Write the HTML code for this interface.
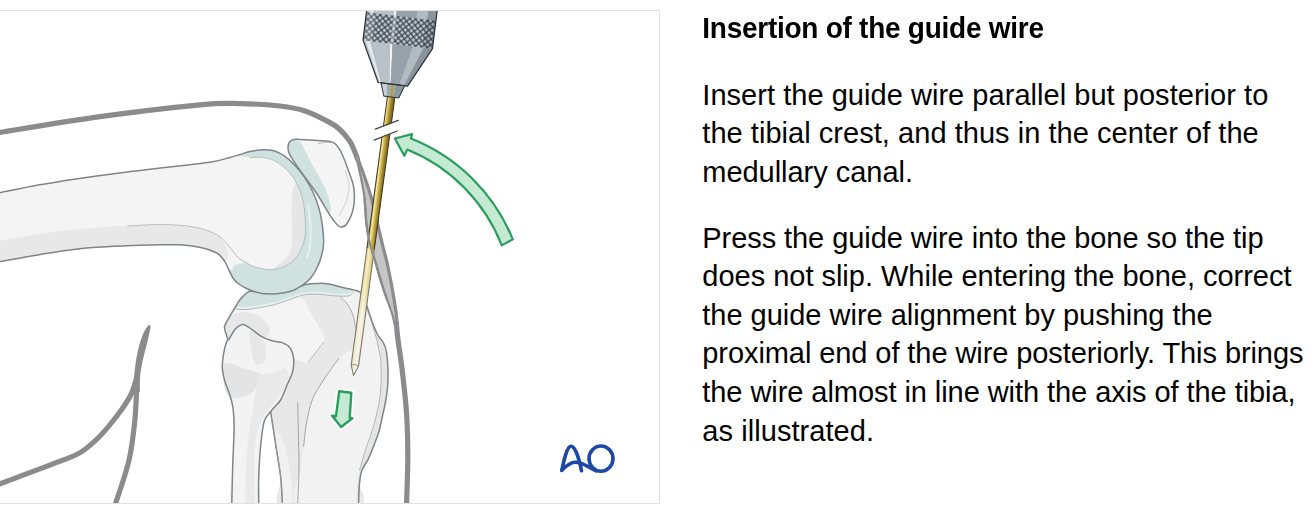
<!DOCTYPE html>
<html><head><meta charset="utf-8"><style>
html,body{margin:0;padding:0;background:#fff;width:1316px;height:509px;overflow:hidden}
#fig{position:absolute;left:0;top:0;width:660px;height:509px}
.t{position:absolute;left:703px;white-space:nowrap;font-family:"Liberation Sans",sans-serif;color:#000}
h2.t{margin:0;font-weight:bold;font-size:28px;line-height:32px;transform:scaleY(1.03);transform-origin:0 25.7px}
p.t{margin:0;font-size:29px;line-height:32px}
</style></head><body>
<svg id="fig" width="660" height="509" viewBox="0 0 660 509">
<defs><clipPath id="fr"><rect x="0" y="10.5" width="659" height="493"/></clipPath></defs>
<rect x="-2" y="10.5" width="661.5" height="493" fill="#fff" stroke="#e1e1e1" stroke-width="1"/>
<g clip-path="url(#fr)">
<path d="M233.0 311.0 C234.3 308.8 235.3 306.9 236.5 305.0 C237.7 303.1 238.2 301.7 239.9 299.7 C241.6 297.7 244.8 294.2 246.8 292.8 C248.8 291.4 247.8 291.3 251.7 291.3 C255.6 291.3 263.8 293.2 270.0 293.0 C276.2 292.8 283.0 291.4 289.0 290.0 C295.0 288.6 301.1 285.5 306.1 284.4 C311.1 283.3 315.1 283.5 318.9 283.4 C322.7 283.3 325.5 283.4 328.8 283.9 C332.1 284.4 335.4 285.6 338.7 286.4 C342.0 287.2 345.1 287.9 348.6 288.8 C352.1 289.7 357.3 290.3 359.9 292.0 C362.5 293.7 362.9 296.6 364.0 298.9 C365.1 301.2 365.9 303.3 366.8 305.8 C367.7 308.3 368.4 310.8 369.5 314.0 C370.6 317.2 371.8 321.3 373.3 325.0 C374.8 328.7 376.7 333.0 378.4 336.0 C380.1 339.0 382.1 340.3 383.5 343.0 C384.9 345.7 385.8 347.5 386.5 352.0 C387.2 356.5 387.8 364.0 388.0 370.0 C388.2 376.0 387.9 382.7 387.5 388.0 C387.1 393.3 386.3 397.3 385.5 402.0 C384.7 406.7 383.6 411.0 382.5 416.0 C381.4 421.0 380.2 427.2 378.8 432.0 C377.4 436.8 375.7 440.6 374.0 445.0 C372.3 449.4 370.5 454.4 368.5 458.6 C366.5 462.8 363.5 465.9 362.0 470.0 C360.5 474.1 360.1 477.2 359.5 483.2 C358.9 489.2 371.3 502.2 358.5 506.0 C345.7 509.8 295.4 510.6 282.5 506.0 C269.6 501.4 281.8 487.8 280.8 478.2 C279.8 468.6 277.9 458.9 276.3 448.7 C274.7 438.5 272.8 424.9 271.4 416.8 C270.0 408.7 270.7 407.8 268.0 400.0 C265.3 392.2 259.7 378.3 255.0 370.0 C250.3 361.7 244.4 355.1 240.0 350.0 C235.6 344.9 231.0 342.1 228.8 339.7 C226.6 337.3 227.3 337.6 226.6 335.4 C225.9 333.2 224.1 329.6 224.5 326.7 C224.9 323.8 227.4 320.6 228.8 318.0 C230.2 315.4 231.7 313.2 233.0 311.0Z" fill="#e8e8e8"/>
<path d="M234.0 309.0 C236.7 307.9 240.5 309.8 244.8 309.6 C249.1 309.4 254.7 308.4 259.6 307.6 C264.6 306.8 269.6 305.9 274.5 304.6 C279.4 303.3 284.9 300.9 289.3 299.7 C293.7 298.5 297.2 294.9 301.0 297.5 C304.8 300.1 308.4 309.1 312.0 315.0 C315.6 320.9 320.5 328.5 322.5 333.0 C324.5 337.5 325.1 338.8 324.0 342.0 C322.9 345.2 318.7 348.5 316.0 352.0 C313.3 355.5 311.5 361.8 308.0 362.8 C304.5 363.8 297.9 360.4 295.0 358.0 C292.1 355.6 292.4 350.8 290.4 348.3 C288.4 345.8 285.9 344.1 282.8 342.9 C279.7 341.6 275.6 341.9 272.0 340.8 C268.4 339.7 264.4 338.2 261.2 336.4 C258.0 334.6 255.1 331.8 252.6 330.0 C250.1 328.2 247.9 326.5 246.1 325.6 C244.3 324.7 243.6 324.1 241.8 324.6 C240.0 325.2 237.5 326.4 235.3 328.9 C233.1 331.4 230.2 338.6 228.8 339.7 C227.4 340.8 227.3 337.6 226.6 335.4 C225.9 333.2 224.1 329.9 224.5 326.7 C224.9 323.4 227.2 318.8 228.8 315.9 C230.4 312.9 231.3 310.1 234.0 309.0Z" fill="#f4f4f4"/>
<path d="M229.0 317.0 C231.2 314.1 234.5 313.2 238.0 312.5 C241.5 311.8 246.0 312.1 250.0 313.0 C254.0 313.9 258.7 315.2 262.0 318.0 C265.3 320.8 270.0 326.7 270.0 330.0 C270.0 333.3 266.2 338.0 262.0 338.0 C257.8 338.0 250.0 329.7 245.0 330.0 C240.0 330.3 235.3 340.0 232.0 340.0 C228.7 340.0 225.5 333.8 225.0 330.0 C224.5 326.2 226.8 319.9 229.0 317.0Z" fill="#e7e7e7"/>
<path d="M340.0 296.5 C340.8 294.6 348.7 293.6 352.0 293.0 C355.3 292.4 358.0 291.9 360.0 293.0 C362.0 294.1 363.0 297.3 364.0 299.5 C365.0 301.7 364.8 302.6 366.0 306.0 C367.2 309.4 369.4 315.2 371.0 320.0 C372.6 324.8 374.2 330.0 375.5 335.0 C376.8 340.0 378.1 345.2 379.0 350.0 C379.9 354.8 380.8 356.7 381.0 364.0 C381.2 371.3 381.4 383.8 380.3 393.7 C379.2 403.6 376.9 413.8 374.4 423.2 C371.9 432.6 368.0 442.0 365.5 449.8 C363.0 457.6 361.0 463.3 359.6 470.0 C358.2 476.7 357.5 484.0 357.0 490.0 C356.5 496.0 366.3 503.3 356.5 506.0 C346.7 508.7 307.4 512.0 298.0 506.0 C288.6 500.0 299.1 479.9 300.0 470.0 C300.9 460.1 302.5 454.6 303.6 446.8 C304.7 439.0 305.0 431.1 306.5 423.2 C308.0 415.3 309.4 407.0 312.4 399.6 C315.3 392.2 319.8 385.9 324.2 379.0 C328.6 372.1 334.7 363.0 339.0 358.3 C343.3 353.6 347.0 352.9 350.0 351.0 C353.0 349.1 355.5 349.3 357.0 347.0 C358.5 344.7 359.2 339.8 359.0 337.0 C358.8 334.2 357.0 333.6 356.0 330.0 C355.0 326.4 354.4 319.7 353.0 315.4 C351.6 311.1 349.7 307.5 347.5 304.4 C345.3 301.2 339.2 298.4 340.0 296.5Z" fill="#f2f2f2"/>
<path d="M276.0 430.0 C277.3 429.4 281.7 438.3 284.0 445.0 C286.3 451.7 288.7 459.8 290.0 470.0 C291.3 480.2 293.2 500.0 292.0 506.0 C290.8 512.0 284.4 510.6 282.5 506.0 C280.6 501.4 281.8 487.8 280.8 478.2 C279.8 468.6 277.1 456.7 276.3 448.7 C275.5 440.7 274.7 430.6 276.0 430.0Z" fill="#f1f1f1"/>
<path d="M366.0 306.0 C366.7 308.4 369.4 315.2 371.0 320.0 C372.6 324.8 374.2 330.0 375.5 335.0 C376.8 340.0 378.1 345.2 379.0 350.0 C379.9 354.8 380.8 356.7 381.0 364.0 C381.2 371.3 381.4 383.8 380.3 393.7 C379.2 403.6 376.9 413.8 374.4 423.2 C371.9 432.6 368.0 442.0 365.5 449.8 C363.0 457.6 361.0 463.3 359.6 470.0 C358.2 476.7 357.5 484.0 357.0 490.0 C356.5 496.0 356.2 503.3 356.5 506.0 C356.8 508.7 358.0 509.8 358.5 506.0 C359.0 502.2 358.9 489.2 359.5 483.2 C360.1 477.2 360.5 474.1 362.0 470.0 C363.5 465.9 366.5 462.8 368.5 458.6 C370.5 454.4 372.3 449.4 374.0 445.0 C375.7 440.6 377.4 436.8 378.8 432.0 C380.2 427.2 381.4 421.0 382.5 416.0 C383.6 411.0 384.7 406.7 385.5 402.0 C386.3 397.3 387.1 393.3 387.5 388.0 C387.9 382.7 388.2 376.0 388.0 370.0 C387.8 364.0 387.2 356.5 386.5 352.0 C385.8 347.5 384.9 345.7 383.5 343.0 C382.1 340.3 380.1 339.0 378.4 336.0 C376.7 333.0 374.8 328.7 373.3 325.0 C371.8 321.3 370.6 317.2 369.5 314.0 C368.4 310.8 367.4 307.1 366.8 305.8 C366.2 304.5 365.3 303.6 366.0 306.0Z" fill="#e5e5e5"/>
<path d="M233.0 311.0 C233.2 310.2 235.3 306.9 236.5 305.0 C237.7 303.1 238.2 301.7 239.9 299.7 C241.6 297.7 244.8 294.2 246.8 292.8 C248.8 291.4 247.8 291.3 251.7 291.3 C255.6 291.3 263.8 293.2 270.0 293.0 C276.2 292.8 283.0 291.4 289.0 290.0 C295.0 288.6 301.1 285.5 306.1 284.4 C311.1 283.3 315.1 283.5 318.9 283.4 C322.7 283.3 325.5 283.4 328.8 283.9 C332.1 284.4 335.4 285.6 338.7 286.4 C342.0 287.2 346.1 288.1 348.6 288.8 C351.1 289.5 352.9 289.7 353.5 290.5 C354.1 291.3 353.2 292.6 352.5 293.5 C351.8 294.4 350.5 295.4 349.0 295.8 C347.5 296.2 346.1 296.2 343.6 296.2 C341.1 296.2 337.9 296.1 333.8 295.8 C329.7 295.5 323.8 294.5 318.9 294.3 C313.9 294.1 309.0 293.9 304.1 294.8 C299.2 295.7 294.2 298.1 289.3 299.7 C284.4 301.3 279.4 303.3 274.5 304.6 C269.6 305.9 264.6 306.8 259.6 307.6 C254.7 308.4 248.8 309.3 244.8 309.6 C240.8 309.9 237.5 309.3 235.5 309.5 C233.5 309.7 232.8 311.8 233.0 311.0Z" fill="#d0e2df"/>
<path d="M352.5 293.5 C351.9 293.9 350.5 295.4 349.0 295.8 C347.5 296.2 346.1 296.2 343.6 296.2 C341.1 296.2 337.9 296.1 333.8 295.8 C329.7 295.5 323.8 294.5 318.9 294.3 C313.9 294.1 309.0 293.9 304.1 294.8 C299.2 295.7 294.2 298.1 289.3 299.7 C284.4 301.3 279.4 303.3 274.5 304.6 C269.6 305.9 264.6 306.8 259.6 307.6 C254.7 308.4 248.7 309.4 244.8 309.6 C240.9 309.8 237.5 309.1 236.0 309.0" fill="none" stroke="#e6f2f0" stroke-width="2.2" transform="translate(0 -1.3)"/>
<path d="M352.5 293.5 C351.9 293.9 350.5 295.4 349.0 295.8 C347.5 296.2 346.1 296.2 343.6 296.2 C341.1 296.2 337.9 296.1 333.8 295.8 C329.7 295.5 323.8 294.5 318.9 294.3 C313.9 294.1 309.0 293.9 304.1 294.8 C299.2 295.7 294.2 298.1 289.3 299.7 C284.4 301.3 279.4 303.3 274.5 304.6 C269.6 305.9 264.6 306.8 259.6 307.6 C254.7 308.4 248.7 309.4 244.8 309.6 C240.9 309.8 237.5 309.1 236.0 309.0" fill="none" stroke="#a4b2b0" stroke-width="0.9"/>
<path d="M340.0 296.5 C341.2 297.8 345.3 301.2 347.5 304.4 C349.7 307.5 351.6 311.1 353.0 315.4 C354.4 319.7 355.5 327.6 356.0 330.0" fill="none" stroke="#a0a0a0" stroke-width="0.9"/>
<path d="M339.0 358.3 C336.5 361.8 328.6 372.1 324.2 379.0 C319.8 385.9 315.3 392.2 312.4 399.6 C309.4 407.0 308.0 415.3 306.5 423.2 C305.0 431.1 304.1 442.9 303.6 446.8" fill="none" stroke="#9a9a9a" stroke-width="0.9"/>
<path d="M297.7 402.6 C297.8 408.8 298.3 428.8 298.5 440.0 C298.7 451.2 299.2 459.0 299.0 470.0 C298.8 481.0 297.8 500.0 297.5 506.0" fill="none" stroke="#9a9a9a" stroke-width="0.9"/>
<path d="M366.0 306.0 C366.8 308.3 369.4 315.2 371.0 320.0 C372.6 324.8 374.2 330.0 375.5 335.0 C376.8 340.0 378.1 345.2 379.0 350.0 C379.9 354.8 380.8 356.7 381.0 364.0 C381.2 371.3 381.4 383.8 380.3 393.7 C379.2 403.6 376.9 413.8 374.4 423.2 C371.9 432.6 368.0 442.0 365.5 449.8 C363.0 457.6 360.6 466.6 359.6 470.0" fill="none" stroke="#a8a8a8" stroke-width="0.8"/>
<path d="M308.0 362.8 C309.3 361.0 313.3 355.5 316.0 352.0 C318.7 348.5 322.7 343.7 324.0 342.0" fill="none" stroke="#a8a8a8" stroke-width="0.8"/>
<path d="M233.0 311.0 C233.6 310.0 235.3 306.9 236.5 305.0 C237.7 303.1 238.2 301.7 239.9 299.7 C241.6 297.7 244.8 294.2 246.8 292.8 C248.8 291.4 247.8 291.3 251.7 291.3 C255.6 291.3 263.8 293.2 270.0 293.0 C276.2 292.8 283.0 291.4 289.0 290.0 C295.0 288.6 301.1 285.5 306.1 284.4 C311.1 283.3 315.1 283.5 318.9 283.4 C322.7 283.3 325.5 283.4 328.8 283.9 C332.1 284.4 335.4 285.6 338.7 286.4 C342.0 287.2 345.1 287.9 348.6 288.8 C352.1 289.7 357.3 290.3 359.9 292.0 C362.5 293.7 362.9 296.6 364.0 298.9 C365.1 301.2 365.9 303.3 366.8 305.8 C367.7 308.3 368.4 310.8 369.5 314.0 C370.6 317.2 371.8 321.3 373.3 325.0 C374.8 328.7 376.7 333.0 378.4 336.0 C380.1 339.0 382.1 340.3 383.5 343.0 C384.9 345.7 385.8 347.5 386.5 352.0 C387.2 356.5 387.8 364.0 388.0 370.0 C388.2 376.0 387.9 382.7 387.5 388.0 C387.1 393.3 386.3 397.3 385.5 402.0 C384.7 406.7 383.6 411.0 382.5 416.0 C381.4 421.0 380.2 427.2 378.8 432.0 C377.4 436.8 375.7 440.6 374.0 445.0 C372.3 449.4 370.5 454.4 368.5 458.6 C366.5 462.8 363.5 465.9 362.0 470.0 C360.5 474.1 360.1 477.2 359.5 483.2 C358.9 489.2 358.7 502.2 358.5 506.0" fill="none" stroke="#7f8488" stroke-width="1.5"/>
<path d="M282.5 506.0 C282.2 501.4 281.8 487.8 280.8 478.2 C279.8 468.6 277.9 458.9 276.3 448.7 C274.7 438.5 272.8 424.9 271.4 416.8 C270.0 408.7 270.7 407.8 268.0 400.0 C265.3 392.2 259.7 378.3 255.0 370.0 C250.3 361.7 244.4 355.1 240.0 350.0 C235.6 344.9 231.0 342.1 228.8 339.7 C226.6 337.3 227.3 337.6 226.6 335.4 C225.9 333.2 224.1 329.6 224.5 326.7 C224.9 323.8 227.4 320.6 228.8 318.0 C230.2 315.4 232.3 312.2 233.0 311.0" fill="none" stroke="#7f8488" stroke-width="1.5"/>
<path d="M228.8 339.7 C230.2 337.5 233.1 331.4 235.3 328.9 C237.5 326.4 240.0 325.2 241.8 324.6 C243.6 324.1 244.3 324.7 246.1 325.6 C247.9 326.5 250.1 328.2 252.6 330.0 C255.1 331.8 258.0 334.6 261.2 336.4 C264.4 338.2 268.4 339.7 272.0 340.8 C275.6 341.9 279.7 341.6 282.8 342.9 C285.9 344.1 288.6 345.6 290.4 348.3 C292.2 351.0 293.2 355.1 293.6 359.1 C294.0 363.1 293.6 367.8 292.5 372.1 C291.4 376.4 289.1 380.4 287.1 385.0 C285.1 389.6 283.1 395.8 280.6 400.0 C278.1 404.2 274.8 406.4 272.0 410.0 C269.2 413.6 266.0 415.2 264.1 421.7 C262.2 428.1 261.3 439.3 260.4 448.7 C259.5 458.1 259.0 468.6 258.7 478.2 C258.4 487.8 263.2 501.4 258.7 506.0 C254.2 510.6 236.0 512.7 231.7 506.0 C227.4 499.3 232.3 478.7 232.7 465.9 C233.1 453.1 234.0 438.6 234.1 429.0 C234.2 419.4 233.8 413.8 233.0 408.0 C232.2 402.2 230.9 398.5 229.5 394.0 C228.1 389.5 226.0 385.4 224.8 381.0 C223.6 376.6 222.5 372.2 222.3 367.8 C222.1 363.4 222.7 359.1 223.4 354.8 C224.1 350.5 225.7 344.3 226.6 341.8 C227.5 339.3 227.4 341.9 228.8 339.7Z" fill="#f3f3f3"/>
<path d="M224.4 363.5 C227.6 360.7 237.0 366.2 243.3 368.2 C249.6 370.2 259.8 372.6 262.1 375.3 C264.5 378.1 259.4 381.6 257.4 384.7 C255.4 387.8 253.4 392.0 250.3 394.1 C247.2 396.2 242.1 397.2 238.6 397.6 C235.1 398.0 231.5 398.6 229.1 396.5 C226.7 394.4 224.8 390.5 224.0 385.0 C223.2 379.5 221.2 366.3 224.4 363.5Z" fill="#e4e4e4"/>
<path d="M250.3 330.6 C252.2 329.8 259.4 334.4 262.0 337.6 C264.6 340.8 265.6 346.1 266.0 350.0 C266.4 353.9 266.3 358.9 264.5 361.2 C262.7 363.4 257.4 366.6 255.0 363.5 C252.6 360.4 251.1 347.9 250.3 342.4 C249.5 336.9 248.4 331.4 250.3 330.6Z" fill="#e7e7e7"/>
<path d="M262.1 375.3 C265.0 373.2 271.2 373.2 275.0 372.0 C278.8 370.8 282.7 367.0 285.0 368.0 C287.3 369.0 289.5 374.0 289.0 378.0 C288.5 382.0 284.8 387.5 282.0 392.0 C279.2 396.5 275.3 400.3 272.0 405.0 C268.7 409.7 264.7 414.2 262.0 420.0 C259.3 425.8 257.3 431.7 256.0 440.0 C254.7 448.3 254.3 459.0 254.0 470.0 C253.7 481.0 255.3 500.0 254.0 506.0 C252.7 512.0 247.3 512.0 246.0 506.0 C244.7 500.0 245.7 481.0 246.0 470.0 C246.3 459.0 247.0 449.2 248.0 440.0 C249.0 430.8 250.4 424.2 252.0 415.0 C253.6 405.8 255.7 391.3 257.4 384.7 C259.1 378.1 259.2 377.4 262.1 375.3Z" fill="#e9e9e9"/>
<path d="M228.8 339.7 C229.9 337.9 233.1 331.4 235.3 328.9 C237.5 326.4 240.0 325.2 241.8 324.6 C243.6 324.1 244.3 324.7 246.1 325.6 C247.9 326.5 250.1 328.2 252.6 330.0 C255.1 331.8 258.0 334.6 261.2 336.4 C264.4 338.2 268.4 339.7 272.0 340.8 C275.6 341.9 279.7 341.6 282.8 342.9 C285.9 344.1 288.6 345.6 290.4 348.3 C292.2 351.0 293.2 355.1 293.6 359.1 C294.0 363.1 293.6 367.8 292.5 372.1 C291.4 376.4 289.1 380.4 287.1 385.0 C285.1 389.6 283.1 395.8 280.6 400.0 C278.1 404.2 274.8 406.4 272.0 410.0 C269.2 413.6 266.0 415.2 264.1 421.7 C262.2 428.1 261.3 439.3 260.4 448.7 C259.5 458.1 259.0 468.6 258.7 478.2 C258.4 487.8 258.7 501.4 258.7 506.0" fill="none" stroke="#7f8488" stroke-width="1.5"/>
<path d="M231.7 506.0 C231.9 499.3 232.3 478.7 232.7 465.9 C233.1 453.1 234.0 438.6 234.1 429.0 C234.2 419.4 233.8 413.8 233.0 408.0 C232.2 402.2 230.9 398.5 229.5 394.0 C228.1 389.5 226.0 385.4 224.8 381.0 C223.6 376.6 222.5 372.2 222.3 367.8 C222.1 363.4 222.7 359.1 223.4 354.8 C224.1 350.5 225.7 344.3 226.6 341.8 C227.5 339.3 228.4 340.1 228.8 339.7" fill="none" stroke="#7f8488" stroke-width="1.5"/>
<path d="M271.4 416.8 C272.2 422.1 274.7 438.5 276.3 448.7 C277.9 458.9 279.8 468.6 280.8 478.2 C281.8 487.8 282.2 501.4 282.5 506.0" fill="none" stroke="#9a9a9a" stroke-width="0.9"/>
<path d="M-5.0 193.5 C-4.2 181.9 -7.2 194.1 0.0 192.7 C7.2 191.3 25.3 187.4 38.0 185.1 C50.7 182.8 63.3 180.8 76.0 178.9 C88.7 177.0 101.3 175.3 114.0 173.7 C126.7 172.0 139.3 170.5 152.0 169.0 C164.7 167.5 179.9 166.0 190.0 164.8 C200.1 163.6 206.5 162.9 212.8 161.8 C219.1 160.7 223.6 159.2 228.0 158.0 C232.4 156.8 235.7 155.8 239.4 154.7 C243.1 153.6 246.1 152.4 250.0 151.6 C253.9 150.8 259.1 149.8 263.1 149.7 C267.1 149.6 270.3 149.7 273.9 150.8 C277.5 151.9 281.1 153.7 284.7 156.2 C288.3 158.7 292.3 162.5 295.5 165.9 C298.7 169.3 301.2 172.4 304.1 176.7 C307.0 181.0 310.3 186.4 312.8 191.8 C315.3 197.2 317.6 203.3 319.2 209.1 C320.8 214.9 321.8 220.6 322.5 226.4 C323.2 232.2 323.8 238.7 323.6 243.7 C323.4 248.7 322.4 252.5 321.3 256.5 C320.2 260.5 319.0 263.8 317.2 267.5 C315.4 271.2 312.8 275.5 310.3 278.5 C307.8 281.5 304.8 283.4 302.0 285.4 C299.2 287.3 297.0 288.9 293.8 290.2 C290.6 291.5 286.7 292.4 282.8 293.0 C278.9 293.6 274.3 293.9 270.4 293.9 C266.5 293.9 263.3 293.9 259.4 293.0 C255.5 292.1 250.4 290.3 247.0 288.8 C243.6 287.3 241.1 285.7 238.8 284.0 C236.5 282.3 234.9 280.8 233.3 278.5 C231.7 276.2 230.6 273.3 229.1 270.3 C227.6 267.3 226.3 263.5 224.2 260.6 C222.1 257.7 220.7 255.2 216.6 253.0 C212.5 250.8 205.5 248.7 199.5 247.3 C193.5 245.9 188.4 245.2 180.5 244.8 C172.6 244.4 163.1 244.8 152.0 245.0 C140.9 245.2 126.7 245.6 114.0 246.3 C101.3 247.0 88.7 247.8 76.0 249.2 C63.3 250.6 50.7 252.8 38.0 254.9 C25.3 256.9 7.2 260.2 0.0 261.5 C-7.2 262.8 -4.2 273.8 -5.0 262.5 C-5.8 251.2 -5.8 205.1 -5.0 193.5Z" fill="#f4f4f4"/>
<path d="M-5.0 241.0 C-4.2 237.3 -7.2 241.8 0.0 240.6 C7.2 239.4 25.3 235.9 38.0 234.0 C50.7 232.1 63.3 230.5 76.0 229.2 C88.7 227.9 99.8 227.2 114.0 226.4 C128.2 225.6 148.8 224.5 161.5 224.5 C174.2 224.5 182.1 225.3 190.0 226.4 C197.9 227.5 204.0 229.3 209.0 231.1 C214.0 232.9 217.2 234.5 220.0 237.0 C222.8 239.5 224.7 243.3 226.0 246.0 C227.3 248.7 227.8 251.0 228.0 253.0 C228.2 255.0 227.6 256.7 227.0 258.0 C226.4 259.3 225.9 261.4 224.2 260.6 C222.5 259.8 220.7 255.2 216.6 253.0 C212.5 250.8 205.5 248.7 199.5 247.3 C193.5 245.9 188.4 245.2 180.5 244.8 C172.6 244.4 163.1 244.8 152.0 245.0 C140.9 245.2 126.7 245.6 114.0 246.3 C101.3 247.0 88.7 247.8 76.0 249.2 C63.3 250.6 50.7 252.8 38.0 254.9 C25.3 256.9 7.2 260.2 0.0 261.5 C-7.2 262.8 -4.2 265.9 -5.0 262.5 C-5.8 259.1 -5.8 244.7 -5.0 241.0Z" fill="#e8e8e8"/>
<path d="M250.0 151.6 C253.9 150.8 259.1 149.8 263.1 149.7 C267.1 149.6 270.3 149.7 273.9 150.8 C277.5 151.9 281.1 153.7 284.7 156.2 C288.3 158.7 292.3 162.5 295.5 165.9 C298.7 169.3 301.2 172.4 304.1 176.7 C307.0 181.0 310.3 186.4 312.8 191.8 C315.3 197.2 317.6 203.3 319.2 209.1 C320.8 214.9 321.8 220.6 322.5 226.4 C323.2 232.2 323.8 238.7 323.6 243.7 C323.4 248.7 322.4 252.5 321.3 256.5 C320.2 260.5 319.0 263.8 317.2 267.5 C315.4 271.2 312.8 275.5 310.3 278.5 C307.8 281.5 304.8 283.4 302.0 285.4 C299.2 287.3 297.0 288.9 293.8 290.2 C290.6 291.5 286.7 292.4 282.8 293.0 C278.9 293.6 274.3 293.9 270.4 293.9 C266.5 293.9 263.3 293.9 259.4 293.0 C255.5 292.1 250.4 290.3 247.0 288.8 C243.6 287.3 241.1 285.7 238.8 284.0 C236.5 282.3 234.9 280.8 233.3 278.5 C231.7 276.2 229.3 271.7 229.1 270.3 C228.9 268.9 231.0 271.1 231.9 270.3 C232.8 269.5 233.0 266.5 234.6 265.4 C236.2 264.2 239.7 264.0 241.5 263.4 C243.3 262.8 243.8 261.6 245.6 262.0 C247.4 262.4 249.5 265.0 252.5 266.1 C255.5 267.2 260.1 268.3 263.5 268.9 C266.9 269.5 269.7 270.0 273.1 269.6 C276.5 269.2 280.5 268.6 284.1 266.8 C287.8 265.0 292.2 262.0 295.0 259.0 C297.8 256.0 299.3 252.7 301.0 249.0 C302.7 245.3 304.3 241.8 305.0 237.0 C305.7 232.2 305.5 226.0 305.2 219.9 C304.9 213.8 304.3 206.2 303.0 200.5 C301.7 194.8 299.6 189.7 297.6 185.4 C295.6 181.1 293.7 177.8 291.2 174.6 C288.7 171.3 285.8 168.4 282.5 165.9 C279.2 163.4 275.3 160.8 271.7 159.4 C268.1 158.0 264.5 157.6 260.9 157.3 C257.3 157.0 253.6 157.9 250.0 157.5 C246.4 157.1 239.4 155.7 239.4 154.7 C239.4 153.7 246.1 152.4 250.0 151.6Z" fill="#d0e2df"/>
<path d="M308.0 205.0 C308.4 208.3 310.2 218.3 310.5 225.0 C310.8 231.7 310.6 239.5 310.0 245.0 C309.4 250.5 307.5 255.8 307.0 258.0" fill="none" stroke="#e3efed" stroke-width="2.2" stroke-linecap="round"/>
<path d="M293.3 187.5 C294.2 185.7 296.0 183.2 297.6 185.4 C299.2 187.6 301.7 194.8 303.0 200.5 C304.3 206.2 304.9 213.8 305.2 219.9 C305.5 226.0 305.7 232.2 305.0 237.0 C304.3 241.8 302.7 245.3 301.0 249.0 C299.3 252.7 297.8 256.0 295.0 259.0 C292.2 262.0 287.8 265.0 284.1 266.8 C280.5 268.6 273.8 270.2 273.1 269.6 C272.4 269.0 277.2 266.0 280.0 263.4 C282.8 260.8 287.6 257.7 289.6 253.8 C291.6 249.9 291.7 247.1 292.0 240.0 C292.3 232.9 291.6 218.6 291.6 211.3 C291.6 204.0 291.9 200.2 292.2 196.2 C292.5 192.2 292.4 189.3 293.3 187.5Z" fill="#e6e6e6"/>
<path d="M250.0 157.5 C251.8 157.5 257.3 157.0 260.9 157.3 C264.5 157.6 268.1 158.0 271.7 159.4 C275.3 160.8 279.2 163.4 282.5 165.9 C285.8 168.4 288.7 171.3 291.2 174.6 C293.7 177.8 295.6 181.1 297.6 185.4 C299.6 189.7 301.7 194.8 303.0 200.5 C304.3 206.2 304.9 213.8 305.2 219.9 C305.5 226.0 305.7 232.2 305.0 237.0 C304.3 241.8 302.7 245.3 301.0 249.0 C299.3 252.7 297.8 256.0 295.0 259.0 C292.2 262.0 287.8 265.0 284.1 266.8 C280.5 268.6 276.5 269.2 273.1 269.6 C269.7 270.0 266.9 269.5 263.5 268.9 C260.1 268.3 255.5 267.2 252.5 266.1 C249.5 265.0 246.8 262.7 245.6 262.0" fill="none" stroke="#a4b4b1" stroke-width="0.8"/>
<path d="M127.3 226.0 C133.0 225.8 151.1 224.4 161.5 224.5 C171.9 224.6 182.1 225.3 190.0 226.4 C197.9 227.5 204.0 229.3 209.0 231.1 C214.0 232.9 216.8 234.7 220.0 237.0 C223.2 239.3 225.7 242.4 228.0 245.0 C230.3 247.6 232.1 250.2 234.0 252.5 C235.9 254.8 237.5 257.1 239.4 258.7 C241.3 260.3 244.6 261.4 245.6 262.0" fill="none" stroke="#b0b0b0" stroke-width="0.8"/>
<path d="M-5.0 193.5 C-4.2 181.9 -7.2 194.1 0.0 192.7 C7.2 191.3 25.3 187.4 38.0 185.1 C50.7 182.8 63.3 180.8 76.0 178.9 C88.7 177.0 101.3 175.3 114.0 173.7 C126.7 172.0 139.3 170.5 152.0 169.0 C164.7 167.5 179.9 166.0 190.0 164.8 C200.1 163.6 206.5 162.9 212.8 161.8 C219.1 160.7 223.6 159.2 228.0 158.0 C232.4 156.8 235.7 155.8 239.4 154.7 C243.1 153.6 246.1 152.4 250.0 151.6 C253.9 150.8 259.1 149.8 263.1 149.7 C267.1 149.6 270.3 149.7 273.9 150.8 C277.5 151.9 281.1 153.7 284.7 156.2 C288.3 158.7 292.3 162.5 295.5 165.9 C298.7 169.3 301.2 172.4 304.1 176.7 C307.0 181.0 310.3 186.4 312.8 191.8 C315.3 197.2 317.6 203.3 319.2 209.1 C320.8 214.9 321.8 220.6 322.5 226.4 C323.2 232.2 323.8 238.7 323.6 243.7 C323.4 248.7 322.4 252.5 321.3 256.5 C320.2 260.5 319.0 263.8 317.2 267.5 C315.4 271.2 312.8 275.5 310.3 278.5 C307.8 281.5 304.8 283.4 302.0 285.4 C299.2 287.3 297.0 288.9 293.8 290.2 C290.6 291.5 286.7 292.4 282.8 293.0 C278.9 293.6 274.3 293.9 270.4 293.9 C266.5 293.9 263.3 293.9 259.4 293.0 C255.5 292.1 250.4 290.3 247.0 288.8 C243.6 287.3 241.1 285.7 238.8 284.0 C236.5 282.3 234.9 280.8 233.3 278.5 C231.7 276.2 230.6 273.3 229.1 270.3 C227.6 267.3 226.3 263.5 224.2 260.6 C222.1 257.7 220.7 255.2 216.6 253.0 C212.5 250.8 205.5 248.7 199.5 247.3 C193.5 245.9 188.4 245.2 180.5 244.8 C172.6 244.4 163.1 244.8 152.0 245.0 C140.9 245.2 126.7 245.6 114.0 246.3 C101.3 247.0 88.7 247.8 76.0 249.2 C63.3 250.6 50.7 252.8 38.0 254.9 C25.3 256.9 7.2 260.2 0.0 261.5 C-7.2 262.8 -4.2 273.8 -5.0 262.5 C-5.8 251.2 -5.8 205.1 -5.0 193.5Z" fill="none" stroke="#7f8488" stroke-width="1.5"/>
<path d="M288.0 147.0 C288.1 145.2 288.5 143.2 289.5 142.0 C290.5 140.8 292.2 139.9 294.0 139.5 C295.8 139.1 296.0 139.3 300.0 139.5 C304.0 139.7 313.0 140.2 318.0 140.5 C323.0 140.8 327.0 140.8 330.0 141.5 C333.0 142.2 334.0 142.4 336.0 144.5 C338.0 146.6 340.2 150.3 342.0 154.0 C343.8 157.7 345.1 161.2 347.0 166.7 C348.9 172.2 352.5 180.1 353.6 186.8 C354.7 193.5 354.7 200.7 353.6 206.8 C352.5 212.9 349.2 220.2 347.0 223.5 C344.8 226.8 342.5 227.3 340.3 226.9 C338.1 226.5 336.1 223.5 334.0 221.0 C331.9 218.5 330.8 216.5 328.0 212.0 C325.2 207.5 320.7 199.5 317.1 194.0 C313.5 188.5 309.9 183.9 306.3 178.9 C302.7 173.9 298.4 168.1 295.5 163.8 C292.6 159.5 290.2 155.8 289.0 153.0 C287.8 150.2 287.9 148.8 288.0 147.0Z" fill="#f5f5f5"/>
<path d="M288.0 147.0 C288.1 145.2 288.5 143.2 289.5 142.0 C290.5 140.8 292.2 139.5 294.0 139.5 C295.8 139.5 298.3 140.5 300.0 142.0 C301.7 143.5 302.3 145.3 304.1 148.6 C305.9 151.9 308.1 156.9 310.6 161.6 C313.1 166.3 316.7 172.0 319.2 176.7 C321.7 181.4 323.9 185.4 325.7 189.7 C327.5 194.0 329.1 199.4 330.0 202.6 C330.9 205.8 331.3 207.4 331.0 209.0 C330.7 210.6 330.3 214.5 328.0 212.0 C325.7 209.5 320.7 199.5 317.1 194.0 C313.5 188.5 309.9 183.9 306.3 178.9 C302.7 173.9 298.4 168.1 295.5 163.8 C292.6 159.5 290.2 155.8 289.0 153.0 C287.8 150.2 287.9 148.8 288.0 147.0Z" fill="#d0e2df"/>
<path d="M339.0 216.0 C340.2 213.7 344.3 207.0 346.0 202.0 C347.7 197.0 349.2 191.3 349.0 186.0 C348.8 180.7 345.7 172.7 345.0 170.0" fill="none" stroke="#d0d0d0" stroke-width="1"/>
<path d="M288.0 147.0 C288.1 145.2 288.5 143.2 289.5 142.0 C290.5 140.8 292.2 139.9 294.0 139.5 C295.8 139.1 296.0 139.3 300.0 139.5 C304.0 139.7 313.0 140.2 318.0 140.5 C323.0 140.8 327.0 140.8 330.0 141.5 C333.0 142.2 334.0 142.4 336.0 144.5 C338.0 146.6 340.2 150.3 342.0 154.0 C343.8 157.7 345.1 161.2 347.0 166.7 C348.9 172.2 352.5 180.1 353.6 186.8 C354.7 193.5 354.7 200.7 353.6 206.8 C352.5 212.9 349.2 220.2 347.0 223.5 C344.8 226.8 342.5 227.3 340.3 226.9 C338.1 226.5 336.1 223.5 334.0 221.0 C331.9 218.5 330.8 216.5 328.0 212.0 C325.2 207.5 320.7 199.5 317.1 194.0 C313.5 188.5 309.9 183.9 306.3 178.9 C302.7 173.9 298.4 168.1 295.5 163.8 C292.6 159.5 290.2 155.8 289.0 153.0 C287.8 150.2 287.9 148.8 288.0 147.0Z" fill="none" stroke="#7f8488" stroke-width="1.5"/>
<path d="M318 143.5 Q326 141.5 333 142.5" fill="none" stroke="#aaa" stroke-width="0.8"/>
<path d="M-8.0 134.0 C-6.7 133.7 -18.0 135.3 0.0 132.4 C18.0 129.5 66.7 121.2 100.0 116.6 C133.3 112.0 176.7 107.0 200.0 104.8 C223.3 102.6 226.7 103.4 240.0 103.6 C253.3 103.8 269.2 104.8 280.0 106.0 C290.8 107.2 296.7 108.2 305.0 111.0 C313.3 113.8 324.2 119.5 330.0 122.6 C335.8 125.7 336.5 126.4 339.8 129.5 C343.1 132.6 347.2 137.4 349.6 141.0 C352.1 144.6 353.2 148.0 354.5 151.0 C355.8 154.0 357.0 157.7 357.5 159.0" fill="none" stroke="#8b8a8c" stroke-width="5.2" stroke-linecap="round"/>
<path d="M357.0 160.0 C357.5 163.2 359.7 171.6 361.0 178.0 C362.3 184.4 363.7 190.7 364.6 198.5 C365.5 206.3 365.6 217.0 366.5 224.6 C367.4 232.2 368.5 237.8 370.0 244.0 C371.5 250.2 373.5 255.5 375.4 262.0 C377.3 268.5 379.6 276.8 381.5 283.0 C383.4 289.2 385.1 294.2 386.8 299.0 C388.5 303.8 390.1 307.7 391.5 312.0 C392.9 316.3 394.0 322.8 395.0 325.0 C396.0 327.2 397.1 327.2 397.3 325.0 C397.5 322.8 396.6 316.3 396.0 312.0 C395.4 307.7 394.8 303.8 394.0 299.0 C393.2 294.2 392.4 289.2 391.2 283.0 C390.0 276.8 388.4 268.5 386.9 262.0 C385.4 255.5 383.8 250.2 382.3 244.0 C380.8 237.8 379.6 232.2 377.8 224.6 C376.0 217.0 373.6 206.3 371.5 198.5 C369.4 190.7 367.2 184.6 365.0 178.0 C362.8 171.4 359.3 162.0 358.0 159.0 C356.7 156.0 356.5 156.8 357.0 160.0Z" fill="#c5c5c5"/>
<path d="M358.0 159.0 C359.2 162.2 362.8 171.4 365.0 178.0 C367.2 184.6 369.4 190.7 371.5 198.5 C373.6 206.3 376.0 217.0 377.8 224.6 C379.6 232.2 380.8 237.8 382.3 244.0 C383.8 250.2 385.4 255.5 386.9 262.0 C388.4 268.5 390.0 276.8 391.2 283.0 C392.4 289.2 393.2 294.2 394.0 299.0 C394.8 303.8 395.4 307.7 396.0 312.0 C396.6 316.3 397.1 322.8 397.3 325.0" fill="none" stroke="#8b8a8c" stroke-width="3.2"/>
<path d="M357.0 160.0 C357.7 163.0 359.7 171.6 361.0 178.0 C362.3 184.4 363.7 190.7 364.6 198.5 C365.5 206.3 365.6 217.0 366.5 224.6 C367.4 232.2 368.5 237.8 370.0 244.0 C371.5 250.2 373.5 255.5 375.4 262.0 C377.3 268.5 379.6 276.8 381.5 283.0 C383.4 289.2 385.1 294.2 386.8 299.0 C388.5 303.8 390.1 307.7 391.5 312.0 C392.9 316.3 394.4 322.8 395.0 325.0" fill="none" stroke="#8b8a8c" stroke-width="2.2"/>
<path d="M396.2 322.0 C396.5 325.0 397.0 332.2 398.0 340.0 C399.0 347.8 400.6 356.4 402.0 368.5 C403.4 380.6 405.5 397.9 406.5 412.7 C407.5 427.4 407.8 441.4 407.8 457.0 C407.8 472.6 406.7 497.8 406.5 506.0" fill="none" stroke="#8b8a8c" stroke-width="5.2"/>
<path d="M-8.0 487.0 C-6.7 486.5 -11.2 488.0 0.0 483.8 C11.2 479.6 45.4 467.0 58.9 461.7 C72.4 456.4 74.2 456.4 81.0 452.1 C87.8 447.8 93.8 442.3 100.0 436.0 C106.2 429.7 112.9 421.2 118.0 414.5 C123.1 407.8 127.5 401.2 130.5 395.5 C133.5 389.8 135.1 382.6 136.0 380.0" fill="none" stroke="#8b8a8c" stroke-width="5.2"/>
<path d="M114.7 506.0 C117.1 498.5 125.5 475.2 128.8 461.0 C132.2 446.8 133.5 433.4 134.8 420.7 C136.1 408.0 136.4 392.6 136.8 385.0 C137.2 377.4 137.4 376.7 137.5 375.0" fill="none" stroke="#8b8a8c" stroke-width="5.2"/>
<path d="M148.6 325.2 C147.6 326.0 145.7 328.7 144.5 331.0 C143.3 333.3 142.2 336.2 141.2 339.0 C140.2 341.8 139.4 344.8 138.6 348.0 C137.8 351.2 137.0 354.7 136.4 358.0 C135.8 361.3 135.4 364.7 135.0 368.0 C134.6 371.3 134.2 375.0 134.0 378.0 C133.8 381.0 132.6 383.7 133.5 386.0 C134.4 388.3 138.6 392.3 139.6 392.0 C140.6 391.7 139.5 387.0 139.6 384.0 C139.7 381.0 139.9 377.2 140.3 374.0 C140.7 370.8 141.2 367.9 141.8 365.0 C142.4 362.1 142.9 359.6 143.6 356.8 C144.3 354.0 145.1 350.8 145.8 348.0 C146.5 345.2 147.2 342.7 147.8 340.0 C148.4 337.3 149.1 334.3 149.6 332.0 C150.1 329.7 150.8 327.5 150.6 326.4 C150.4 325.3 149.6 324.4 148.6 325.2Z" fill="#8b8a8c"/>
<linearGradient id="wg" gradientUnits="userSpaceOnUse" x1="367.5" y1="244.2" x2="374.9" y2="245.1"><stop offset="0" stop-color="#9c8222"/><stop offset="0.3" stop-color="#f5eaa6"/><stop offset="0.55" stop-color="#d2b850"/><stop offset="1" stop-color="#86701c"/></linearGradient>
<linearGradient id="wp" gradientUnits="userSpaceOnUse" x1="367.5" y1="244.2" x2="374.9" y2="245.1"><stop offset="0" stop-color="#e0d28a"/><stop offset="0.3" stop-color="#f6efc4"/><stop offset="0.65" stop-color="#e6d992"/><stop offset="1" stop-color="#cbbb68"/></linearGradient>
<linearGradient id="wc" gradientUnits="userSpaceOnUse" x1="367.5" y1="244.2" x2="374.9" y2="245.1"><stop offset="0" stop-color="#eee8cf"/><stop offset="0.4" stop-color="#faf7ea"/><stop offset="1" stop-color="#e7e0c4"/></linearGradient>
<path d="M366.9 248.5 L374.3 249.5 L358.5 366.1 L353.5 375.5 L351.2 365.1Z" fill="url(#wc)"/>
<linearGradient id="wfade" gradientUnits="userSpaceOnUse" x1="370.6" y1="249.0" x2="361.3" y2="318.0"><stop offset="0" stop-color="#fff"/><stop offset="0.55" stop-color="#fff" stop-opacity="0.85"/><stop offset="1" stop-color="#fff" stop-opacity="0"/></linearGradient>
<mask id="wm" maskUnits="userSpaceOnUse" x="0" y="0" width="660" height="509"><path d="M366.0 248.4 L375.3 249.6 L365.9 318.6 L356.6 317.4Z" fill="url(#wfade)"/></mask>
<path d="M366.9 248.5 L374.3 249.5 L364.9 318.5 L357.6 317.5Z" fill="url(#wp)" mask="url(#wm)"/>
<path d="M366.9 248.5 L351.2 365.1 L353.5 375.5 L358.5 366.1 L374.3 249.5" fill="none" stroke="#7d7b72" stroke-width="1.1" stroke-linejoin="round"/>
<path d="M351.2 365.1 Q355.2 363.1 358.5 366.1" fill="none" stroke="#8a877c" stroke-width="0.9"/>
<path d="M387.6 95.5 L395.0 96.5 L374.3 249.5 L366.9 248.5Z" fill="url(#wg)"/>
<path d="M387.6 95.5 L366.9 248.5" fill="none" stroke="#3b3420" stroke-width="1"/>
<path d="M395.0 96.5 L374.3 249.5" fill="none" stroke="#3b3420" stroke-width="1"/>
<path d="M371 131 L401 119.5 L400 130 L371 141.5 Z" fill="#ffffff"/>
<path d="M375.3 129.1 L398.3 120.3 M374.1 140.1 L397.1 131" stroke="#444" stroke-width="1.3" fill="none" stroke-linecap="round"/>
<path d="M364.6 198.5 C364.9 202.8 365.6 217.0 366.5 224.6 C367.4 232.2 368.5 237.8 370.0 244.0 C371.5 250.2 373.5 255.5 375.4 262.0 C377.3 268.5 379.6 276.8 381.5 283.0 C383.4 289.2 385.9 296.3 386.8 299.0" fill="none" stroke="#8b8a8c" stroke-width="2.2"/>
<g transform="translate(391.3 97) rotate(7)"><path d="M-35.0 -140 L35.0 -140 L35.0 -53.0 L14.8 -12.8 L-14.8 -12.8 L-35.0 -53.0 Z" fill="#a3adb5"/><path d="M-35.00 -53.0 L-26.25 -53.0 L-11.10 -12.8 L-14.80 -12.8 Z" fill="#b4bdc4"/><rect x="-35.00" y="-140" width="8.75" height="87.0" fill="#b4bdc4"/><path d="M-32.20 -53.0 L-28.00 -53.0 L-11.84 -12.8 L-13.62 -12.8 Z" fill="#e4e9ec"/><rect x="-32.20" y="-140" width="4.20" height="87.0" fill="#e4e9ec"/><path d="M-26.25 -53.0 L-7.70 -53.0 L-3.26 -12.8 L-11.10 -12.8 Z" fill="#b9c2c9"/><rect x="-26.25" y="-140" width="18.55" height="87.0" fill="#b9c2c9"/><path d="M-7.70 -53.0 L-5.25 -53.0 L-2.22 -12.8 L-3.26 -12.8 Z" fill="#f2f4f6"/><rect x="-7.70" y="-140" width="2.45" height="87.0" fill="#f2f4f6"/><path d="M-5.25 -53.0 L15.40 -53.0 L6.51 -12.8 L-2.22 -12.8 Z" fill="#97a1a9"/><rect x="-5.25" y="-140" width="20.65" height="87.0" fill="#97a1a9"/><path d="M15.40 -53.0 L26.25 -53.0 L11.10 -12.8 L6.51 -12.8 Z" fill="#b3bbc2"/><rect x="15.40" y="-140" width="10.85" height="87.0" fill="#b3bbc2"/><path d="M26.25 -53.0 L35.00 -53.0 L14.80 -12.8 L11.10 -12.8 Z" fill="#8a949c"/><rect x="26.25" y="-140" width="8.75" height="87.0" fill="#8a949c"/><pattern id="kn" width="4.2" height="4.2" patternUnits="userSpaceOnUse" patternTransform="rotate(45)"><rect width="4.2" height="4.2" fill="#b6c3cc"/><path d="M0 0 H4.2 M0 0 V4.2 M0 4.2 H4.2 M4.2 0 V4.2" stroke="#33383d" stroke-width="1.05"/></pattern><rect x="-35.0" y="-81.0" width="70.0" height="28.0" fill="url(#kn)"/><rect x="-35.0" y="-81.0" width="9" height="28.0" fill="#ffffff" opacity="0.18"/><rect x="-7.5" y="-81.0" width="3" height="28.0" fill="#ffffff" opacity="0.35"/><rect x="25.0" y="-81.0" width="10" height="28.0" fill="#000" opacity="0.12"/><path d="M-12 -12.8 L12 -12.8 L7.5 0.0 L-7.5 0.0 Z" fill="#a0aab2"/><path d="M-12 -12.8 L-6 -12.8 L-4.5 0.0 L-7.5 0.0 Z" fill="#c9d0d6"/><path d="M3 -12.8 L12 -12.8 L7.5 0.0 L2.2 0.0 Z" fill="#8d979f"/><path d="M-1.1 -12.8 L1.1 -12.8 L1.0 0.0 L-1.0 0.0 Z" fill="#b89b32"/><path d="M-12 -12.8 L12 -12.8 L7.5 0.0 L-7.5 0.0 Z" fill="none" stroke="#2e3236" stroke-width="1"/><path d="M-35.0 -140 L-35.0 -53.0 L-14.8 -12.8 L14.8 -12.8 L35.0 -53.0 L35.0 -140" fill="none" stroke="#2e3236" stroke-width="1.2" stroke-linejoin="round"/></g>
<path d="M394.9 138.5 L412.1 134.1 L410.9 138.6 A182 182 0 0 1 512.8 239.3 L501.8 245.4 A170.5 170.5 0 0 0 407.2 149.6 L404.3 155.7 Z" fill="#c4ead3" stroke="#2a9d5c" stroke-width="2.2" stroke-linejoin="round"/>
<path d="M339.2 391.3 L351.3 392.7 L349.7 417.8 L352.4 418.3 L341.1 427 L331.9 415.6 L336 416.2 Z" fill="white" stroke="white" stroke-width="6" stroke-linejoin="round"/>
<path d="M339.2 391.3 L351.3 392.7 L349.7 417.8 L352.4 418.3 L341.1 427 L331.9 415.6 L336 416.2 Z" fill="#c4ead3" stroke="#2a9d5c" stroke-width="2.4" stroke-linejoin="round"/>
<ellipse cx="601" cy="458.6" rx="12" ry="12.6" fill="none" stroke="#1b48a6" stroke-width="3.6"/>
<path d="M561.8 470.5 C564 460 567 446 571.2 446.2 C575 446.4 579 458 581.5 470.8" fill="none" stroke="#1b48a6" stroke-width="3.6" stroke-linecap="round" stroke-linejoin="round"/>
<path d="M562 470 C566 466 570 462.5 575 462.3 C582 462 588 467 596 470.8" fill="none" stroke="#1b48a6" stroke-width="3.6" stroke-linecap="round"/>
</g>
<rect x="-2" y="10.5" width="661.5" height="493" fill="none" stroke="#e1e1e1" stroke-width="1"/>
</svg>
<h2 class="t" style="left:702.30px;top:13.40px;letter-spacing:-0.262px">Insertion of the guide wire</h2>
<p class="t" style="left:702.30px;top:78.95px;letter-spacing:0.039px">Insert the guide wire parallel but posterior to</p>
<p class="t" style="left:702.30px;top:117.45px;letter-spacing:0.041px">the tibial crest, and thus in the center of the</p>
<p class="t" style="left:702.30px;top:155.85px;letter-spacing:-0.033px">medullary canal.</p>
<p class="t" style="left:702.30px;top:221.65px;letter-spacing:-0.068px">Press the guide wire into the bone so the tip</p>
<p class="t" style="left:702.30px;top:260.25px;letter-spacing:-0.017px">does not slip. While entering the bone, correct</p>
<p class="t" style="left:702.30px;top:298.85px;letter-spacing:-0.016px">the guide wire alignment by pushing the</p>
<p class="t" style="left:702.30px;top:337.35px;letter-spacing:-0.079px">proximal end of the wire posteriorly. This brings</p>
<p class="t" style="left:702.30px;top:375.95px;letter-spacing:-0.062px">the wire almost in line with the axis of the tibia,</p>
<p class="t" style="left:702.30px;top:414.55px;letter-spacing:0.064px">as illustrated.</p>
</body></html>
